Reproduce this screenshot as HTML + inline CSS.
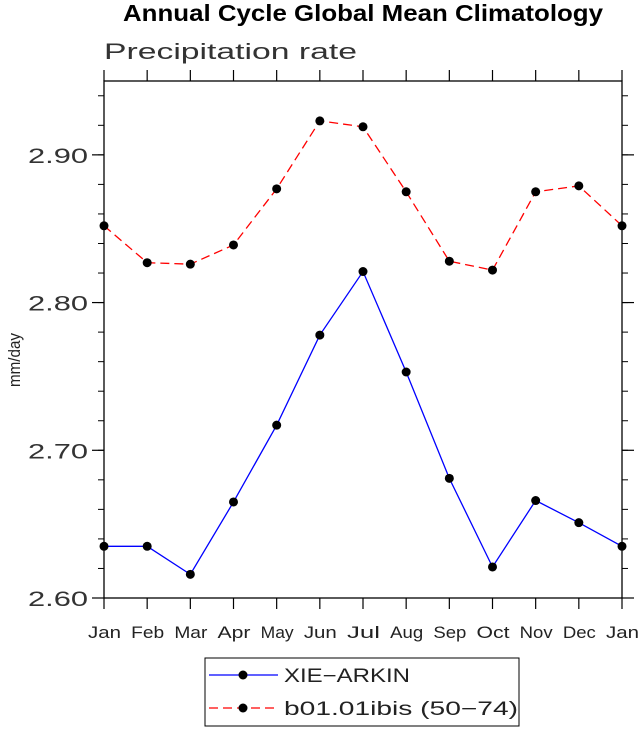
<!DOCTYPE html>
<html><head><meta charset="utf-8"><style>
body{margin:0;background:#fff;}
svg text{font-family:"Liberation Sans",sans-serif;}
</style></head><body>
<svg id="chart" width="638" height="728" xmlns="http://www.w3.org/2000/svg">
<text x="123" y="21" font-size="23" font-weight="bold" textLength="480" lengthAdjust="spacingAndGlyphs">Annual Cycle Global Mean Climatology</text>
<text x="104" y="59" font-size="22" fill="#333" textLength="253" lengthAdjust="spacingAndGlyphs">Precipitation rate</text>
<text x="0" y="0" transform="translate(20,387) rotate(-90)" font-size="17" fill="#222" textLength="54" lengthAdjust="spacingAndGlyphs">mm/day</text>
<g id="axes"></g>
<g id="series"></g>
<g>
<rect x="205" y="658" width="314" height="68" fill="#fff" stroke="#000" stroke-width="1"/>
<line x1="209" y1="675" x2="278" y2="675" stroke="#0000ff" stroke-width="1.3"/>
<circle cx="243" cy="675" r="4.5" fill="#000"/>
<text x="284" y="682" font-size="19" fill="#222" textLength="126" lengthAdjust="spacingAndGlyphs">XIE−ARKIN</text>
<line x1="209" y1="708" x2="278" y2="708" stroke="#ff0000" stroke-width="1.3" stroke-dasharray="9,5"/>
<circle cx="243" cy="708" r="4.5" fill="#000"/>
<text x="284" y="715" font-size="19" fill="#222" textLength="234" lengthAdjust="spacingAndGlyphs">b01.01ibis (50−74)</text>
</g>
</svg>
<script>
const months=["Jan","Feb","Mar","Apr","May","Jun","Jul","Aug","Sep","Oct","Nov","Dec","Jan"];
const xieArkin=[2.635,2.635,2.616,2.665,2.717,2.778,2.821,2.753,2.681,2.621,2.666,2.651,2.635];
const b01ibis=[2.852,2.827,2.826,2.839,2.877,2.923,2.919,2.875,2.828,2.822,2.875,2.879,2.852];
const yTicks=["2.60","2.70","2.80","2.90"];
const L=104,R=622,T=81,B=598,yMin=2.60,yMax=2.95;
const NS="http://www.w3.org/2000/svg";
function xs(i){return L+(R-L)*i/(months.length-1);}
function ys(v){return B-(v-yMin)/(yMax-yMin)*(B-T);}
function mk(tag,attrs,parent){const e=document.createElementNS(NS,tag);for(const k in attrs)e.setAttribute(k,attrs[k]);parent.appendChild(e);return e;}
const ax=document.getElementById('axes');
const frame=mk('rect',{x:L,y:T,width:R-L,height:B-T,fill:'none',stroke:'#000','stroke-width':1.3},ax);


months.forEach((m,i)=>{
  const x=xs(i);
  mk('line',{x1:x,y1:B,x2:x,y2:B+11,stroke:'#000','stroke-width':1.2},ax);
  mk('line',{x1:x,y1:T,x2:x,y2:T-11,stroke:'#000','stroke-width':1.2},ax);
  const t=mk('text',{x:x-16,y:B+40,'font-size':17,fill:'#222',textLength:33,lengthAdjust:'spacingAndGlyphs'},ax);
  t.textContent=m;
  
  
});
for(let k=0;k<=17;k++){
  const v=yMin+k*0.02;const y=ys(v);
  mk('line',{x1:L,y1:y,x2:L-6,y2:y,stroke:'#000','stroke-width':1},ax);
  mk('line',{x1:R,y1:y,x2:R+6,y2:y,stroke:'#000','stroke-width':1},ax);
}
yTicks.forEach(s=>{
  const y=ys(parseFloat(s));
  mk('line',{x1:L,y1:y,x2:L-12,y2:y,stroke:'#000','stroke-width':1.2},ax);
  mk('line',{x1:R,y1:y,x2:R+12,y2:y,stroke:'#000','stroke-width':1.2},ax);
  const t=mk('text',{x:28,y:y+8,'font-size':21,fill:'#333',textLength:60,lengthAdjust:'spacingAndGlyphs'},ax);
  t.textContent=s;
  
  
});
const sg=document.getElementById('series');
function draw(vals,color,dash,name){
  const pts=vals.map((v,i)=>xs(i)+','+ys(v)).join(' ');
  const pl=mk('polyline',{points:pts,fill:'none',stroke:color,'stroke-width':1.3},sg);
  if(dash)pl.setAttribute('stroke-dasharray',dash);
  
  
  vals.forEach((v,i)=>{
    const c=mk('circle',{cx:xs(i),cy:ys(v),r:4.5,fill:'#000'},sg);
    
    
  });
}
draw(b01ibis,'#ff0000','9,5','b01-01ibis');
draw(xieArkin,'#0000ff',null,'xie-arkin');
</script>
</body></html>
